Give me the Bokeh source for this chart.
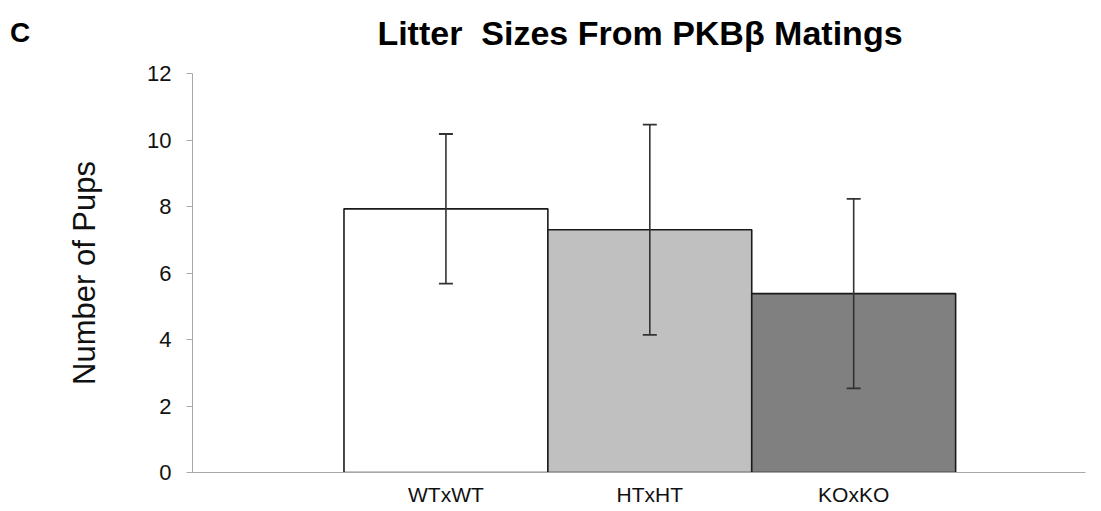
from bokeh.plotting import figure
from bokeh.layouts import column
from bokeh.models import ColumnDataSource, Whisker, TeeHead, FixedTicker, Range1d, Div
from bokeh.embed import file_html
from bokeh.resources import INLINE

categories = ["WTxWT", "HTxHT", "KOxKO"]
means = [7.93, 7.30, 5.38]
errors = [2.25, 3.16, 2.85]
y_ticks = [0, 2, 4, 6, 8, 10, 12]

title_text = "Litter  Sizes From PKB\u03b2 Matings"
panel_letter = "C"
y_label = "Number of Pups"

fills = ["#ffffff", "#c0c0c0", "#808080"]
xs = [i + 1 for i in range(len(categories))]

src = ColumnDataSource(dict(
    x=xs, top=means, fill=fills,
    upper=[m + e for m, e in zip(means, errors)],
    lower=[m - e for m, e in zip(means, errors)],
))

FONT = "Liberation Sans"

# ---- header strip with panel letter and title ----
TOP_H = 60
head_html = (
    f'<div style="position:relative;width:1101px;height:{TOP_H}px;'
    f"font-family:'{FONT}',Arial,sans-serif;font-weight:bold;color:#000;\">"
    f'<span style="position:absolute;left:10px;top:19px;font-size:28px;line-height:28px;">'
    f'{panel_letter}</span>'
    f'<span style="position:absolute;left:290px;width:700px;top:16px;font-size:34px;'
    f'line-height:34px;text-align:center;white-space:pre;">{title_text}</span>'
    f'</div>'
)
head = Div(text=head_html, width=1101, height=TOP_H, margin=(0, 0, 0, 0))

# ---- main chart ----
p = figure(width=1101, height=511 - TOP_H, output_backend="svg", toolbar_location=None,
           x_range=Range1d(-0.243, 4.137), y_range=Range1d(0, 12),
           min_border_left=192, min_border_right=16, min_border_top=73 - TOP_H,
           min_border_bottom=39, margin=(0, 0, 0, 0))
p.outline_line_color = None
p.grid.visible = False
p.background_fill_color = "white"
p.border_fill_color = "white"

p.vbar(x="x", top="top", width=1.0, bottom=0, source=src, fill_color="fill",
       line_color="#1a1a1a", line_width=1.6)

w = Whisker(base="x", upper="upper", lower="lower", source=src,
            line_color="#333333", line_width=1.6, level="overlay",
            upper_head=TeeHead(size=14, line_color="#333333", line_width=1.8),
            lower_head=TeeHead(size=14, line_color="#333333", line_width=1.8))
p.add_layout(w)

# y axis
p.yaxis.ticker = FixedTicker(ticks=y_ticks)
p.yaxis.axis_line_color = "#a8a8a8"
p.yaxis.major_tick_line_color = "#a8a8a8"
p.yaxis.major_tick_out = 6
p.yaxis.major_tick_in = 0
p.yaxis.minor_tick_line_color = None
p.yaxis.major_label_text_font = FONT
p.yaxis.major_label_text_font_size = "22px"
p.yaxis.major_label_text_color = "#111111"
p.yaxis.major_label_standoff = 15
p.yaxis.axis_label = y_label
p.yaxis.axis_label_text_font = FONT
p.yaxis.axis_label_text_font_size = "31px"
p.yaxis.axis_label_text_font_style = "normal"
p.yaxis.axis_label_text_color = "#111111"
p.yaxis.axis_label_standoff = 42

# x axis
p.xaxis.ticker = FixedTicker(ticks=xs)
p.xaxis.major_label_overrides = {x: c for x, c in zip(xs, categories)}
p.xaxis.axis_line_color = "#a8a8a8"
p.xaxis.major_tick_line_color = None
p.xaxis.minor_tick_line_color = None
p.xaxis.major_tick_out = 0
p.xaxis.major_tick_in = 0
p.xaxis.major_label_text_font = FONT
p.xaxis.major_label_text_font_size = "21px"
p.xaxis.major_label_text_color = "#111111"
p.xaxis.major_label_standoff = 10

layout = column(head, p, spacing=0)
open("out.html", "w").write(file_html(layout, INLINE))
